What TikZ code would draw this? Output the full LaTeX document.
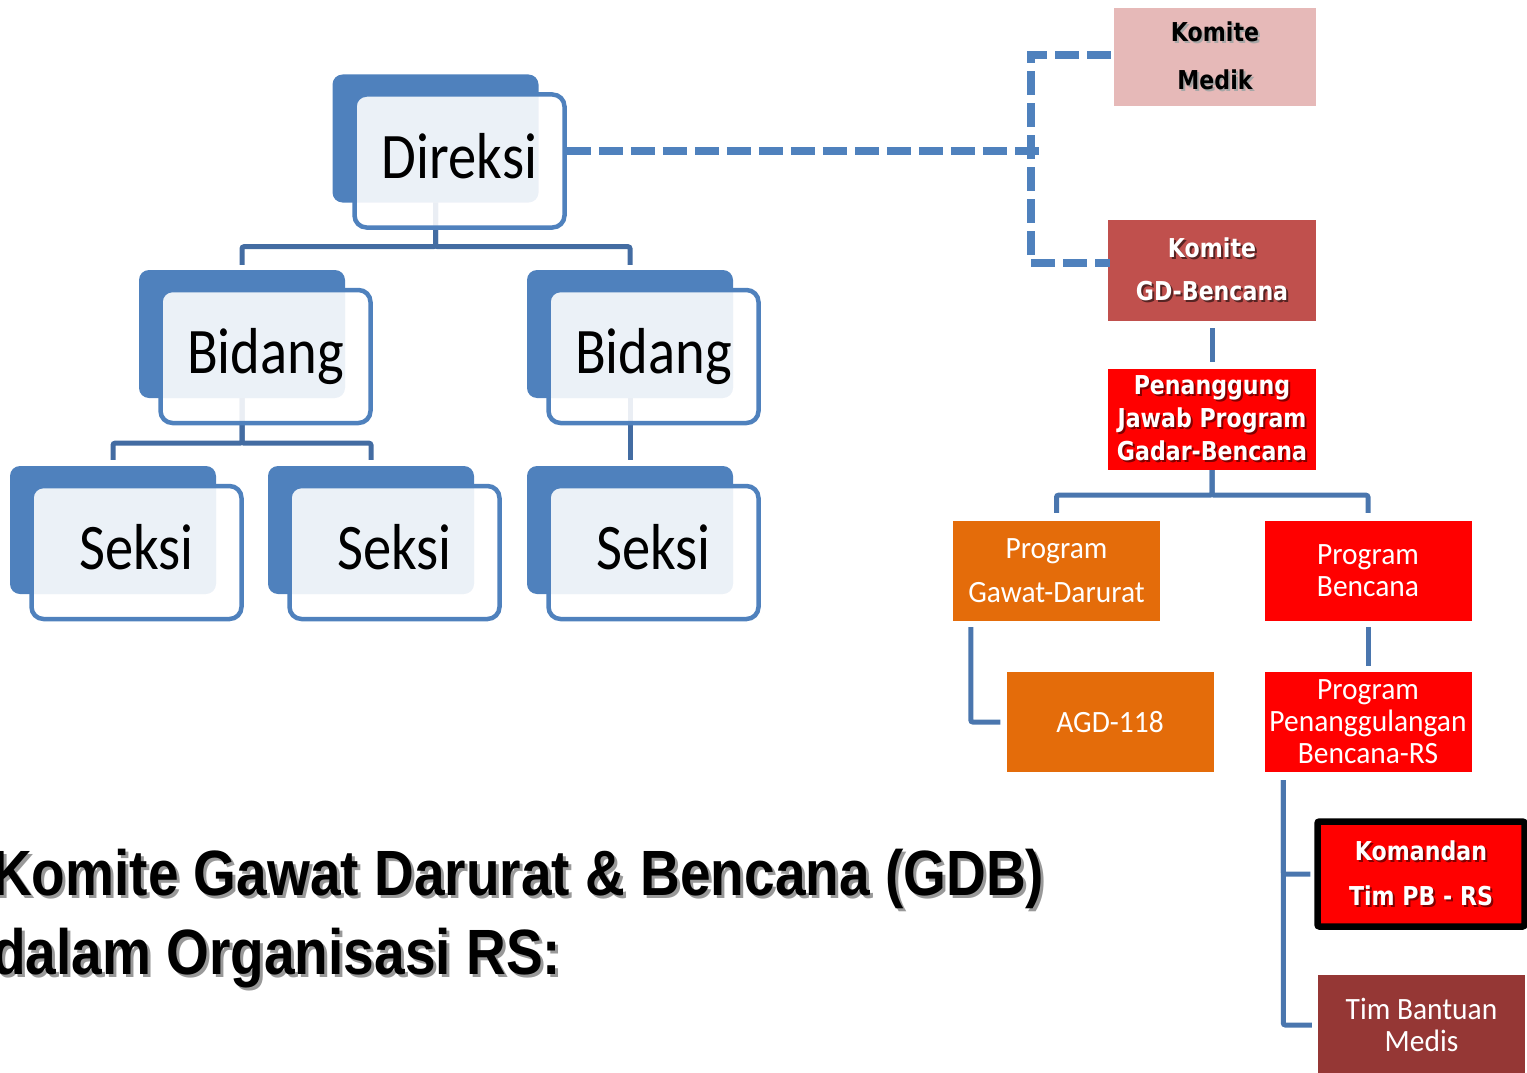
\documentclass[tikz,border=0pt]{standalone}
\usepackage{fontspec}
\setmainfont{Carlito}
\newfontfamily\boxfont[FakeStretch=0.87]{Carlito}
\newfontfamily\progfont[FakeStretch=0.95]{Carlito}
\newfontfamily\lblfont[FakeStretch=0.85]{DejaVu Sans}
\newfontfamily\ttlfont[FakeStretch=0.86]{Liberation Sans}
\definecolor{sblue}{HTML}{4F81BD}
\definecolor{lconnc}{HTML}{436CA2}
\definecolor{rconnc}{HTML}{4A76AE}
\definecolor{kmpink}{HTML}{E6B9B8}
\definecolor{kgdred}{HTML}{C0504D}
\definecolor{pured}{HTML}{FF0000}
\definecolor{orng}{HTML}{E46C0A}
\definecolor{tbmred}{HTML}{953735}
\newcommand\shd[3][2pt]{\makebox[0pt][l]{\kern#1\raisebox{-#1}{\textcolor{#2}{#3}}}#3}
\begin{document}
\begin{tikzpicture}[x=1pt,y=-1pt,
  backbox/.style={fill=sblue, rounded corners=10pt, minimum width=206pt, minimum height=128pt, inner sep=0pt},
  frontbox/.style={draw=sblue, line width=4.5pt, fill=white, fill opacity=0.89, text opacity=1, rounded corners=12pt, minimum width=210pt, minimum height=133pt, inner sep=0pt, text height=42pt, text depth=8pt, font=\boxfont\fontsize{65}{70}\selectfont},
  lconn/.style={draw=lconnc, line width=5pt, rounded corners=2pt},
  rconn/.style={draw=rconnc, line width=5pt, rounded corners=2pt},
  dashc/.style={draw=sblue, line width=7.5pt, dash pattern=on 24pt off 8pt},
  rbox/.style={inner sep=0pt, minimum width=207pt, minimum height=100pt, align=center, text=white},
  prog/.style={rbox, font=\progfont\fontsize{31}{32}\selectfont},
  lbl/.style={rbox, font=\lblfont\bfseries\fontsize{26}{45}\selectfont},
]
\useasboundingbox (0,0) rectangle (1527,1073);

% ---- left org tree: back panels
\node[backbox] (dirb) at (435.5,138.5) {};
\node[backbox] (b1b) at (242,334) {};
\node[backbox] (b2b) at (630,334) {};
\node[backbox] (s1b) at (113,530) {};
\node[backbox] (s2b) at (371,530) {};
\node[backbox] (s3b) at (630,530) {};

% connectors of the tree
\draw[lconn] (dirb.south) -- ++(0,44) -| ([yshift=5pt]b1b.north);
\draw[lconn] (dirb.south) -- ++(0,44) -| ([yshift=5pt]b2b.north);
\draw[lconn] (b1b.south) -- ++(0,45) -| ([yshift=6pt]s1b.north);
\draw[lconn] (b1b.south) -- ++(0,45) -| ([yshift=6pt]s2b.north);
\draw[lconn, shorten >=6pt] (b2b.south) -- (s3b.north);

% front boxes
\node[frontbox] (dir) at ([shift={(24,22.5)}]dirb.center) {Direksi};
\node[frontbox] (b1) at ([shift={(23.5,22.5)}]b1b.center) {Bidang};
\node[frontbox] (b2) at ([shift={(23.5,22.5)}]b2b.center) {Bidang};
\node[frontbox] (s1) at ([shift={(23.5,22.5)}]s1b.center) {Seksi};
\node[frontbox] (s2) at ([shift={(23.5,22.5)}]s2b.center) {Seksi};
\node[frontbox] (s3) at ([shift={(23.5,22.5)}]s3b.center) {Seksi};

% ---- right side boxes
\node[lbl, fill=kmpink, text=black, minimum width=202pt, minimum height=98pt, font=\lblfont\bfseries\fontsize{26}{48}\selectfont] (km) at (1215,57)
  {\shd{black!35}{Komite}\\\shd{black!35}{Medik}};
\node[lbl, fill=kgdred, minimum width=208pt, minimum height=101pt, font=\lblfont\bfseries\fontsize{26}{43}\selectfont] (kgd) at (1212,270.5)
  {\shd{black!55!kgdred}{Komite}\\\shd{black!55!kgdred}{GD-Bencana}};
\node[lbl, fill=pured, minimum width=208pt, minimum height=101pt, font=\lblfont\bfseries\fontsize{26}{33}\selectfont] (pj) at (1212,419.5)
  {\shd{black!50!red}{Penanggung}\\\shd{black!50!red}{Jawab Program}\\\shd{black!50!red}{Gadar-Bencana}};
\node[prog, fill=orng, font=\progfont\fontsize{31}{44}\selectfont] (pgd) at (1056.5,571) {Program\\Gawat-Darurat};
\node[prog, fill=pured] (pb) at (1368,571) {Program\\Bencana};
\node[prog, fill=orng] (agd) at (1110,722) {AGD-118};
\node[prog, fill=pured] (ppb) at (1368,722) {Program\\Penanggulangan\\Bencana-RS};
\node[lbl, fill=pured, draw=black, line width=6.5pt, rounded corners=2pt, minimum width=207pt, minimum height=105pt, font=\lblfont\bfseries\fontsize{26}{45}\selectfont] (kom) at (1421,874)
  {\shd{black!50!red}{Komandan}\\\shd{black!50!red}{Tim PB - RS}};
\node[prog, fill=tbmred] (tbm) at (1421.5,1025) {Tim Bantuan\\Medis};

% dashed staff links
\coordinate (vt) at (1031,55);
\coordinate (vb) at (1031,263);
\coordinate (dj) at (1039,151);
\draw[dashc] ([yshift=10pt]dir.east) -- (dj);
\draw[dashc] ([xshift=-3pt]km.west |- vt) -- (vt) -- (vb) -- ([xshift=2pt]kgd.west |- vb);

% solid right connectors
\draw[rconn, shorten <=7pt, shorten >=7pt] (kgd.south) -- (pj.north);
\draw[rconn, shorten >=8pt] (pj.south) -- ++(0,25) -| (pgd.north);
\draw[rconn, shorten >=8pt] (pj.south) -- ++(0,25) -| (pb.north);
\draw[rconn, shorten <=6pt, shorten >=6pt] ([xshift=18pt]pgd.south west) |- (agd.west);
\draw[rconn, shorten <=6pt, shorten >=6pt] (pb.south) -- (ppb.north);
\draw[rconn, shorten <=8pt, shorten >=4pt] ([xshift=19pt]ppb.south west) |- (kom.west);
\draw[rconn, shorten <=8pt, shorten >=6pt] ([xshift=19pt]ppb.south west) |- (tbm.west);

% ---- title
\node[anchor=base west, inner sep=0pt, font=\ttlfont\bfseries\fontsize{64}{79}\selectfont] (ttl1) at (-8,895)
  {\shd[3pt]{black!40}{Komite Gawat Darurat \& Bencana (GDB)}};
\node[anchor=base west, inner sep=0pt, font=\ttlfont\bfseries\fontsize{64}{79}\selectfont] (ttl2) at (-8,974)
  {\shd[3pt]{black!40}{dalam Organisasi RS:}};
\end{tikzpicture}
\end{document}
